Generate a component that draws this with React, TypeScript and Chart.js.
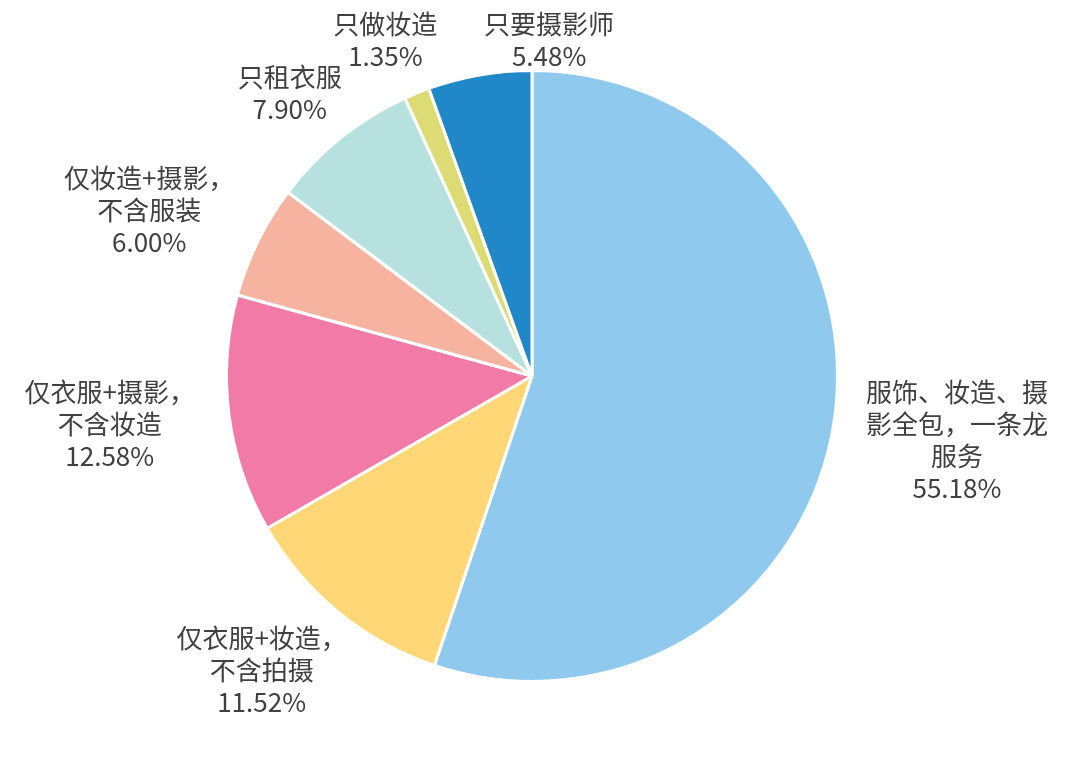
import { useEffect, useRef } from 'react';
import { Chart, ArcElement, PieController, Plugin } from 'chart.js';

Chart.register(ArcElement, PieController);

// slices, clockwise from 12 o'clock
const CATEGORIES = [
  ['服饰、妆造、摄', '影全包，一条龙', '服务'],
  ['仅衣服+妆造，', '不含拍摄'],
  ['仅衣服+摄影，', '不含妆造'],
  ['仅妆造+摄影，', '不含服装'],
  ['只租衣服'],
  ['只做妆造'],
  ['只要摄影师'],
];
const SHARES = [55.18, 11.52, 12.58, 6.0, 7.9, 1.35, 5.48];

const COLORS = ['#8fcaee', '#ffd777', '#f17aa6', '#f6b4a0', '#b7e1de', '#dddc74', '#2088c8'];

// label block centres, in units of the pie radius from the pie centre
const LABEL_LAYOUT = [
  [1.391, 0.211],
  [-0.885, 0.962],
  [-1.382, 0.156],
  [-1.253, -0.544],
  [-0.793, -0.926],
  [-0.48, -1.1],
  [0.056, -1.1],
];

const FONT = '"Noto Sans CJK SC", "Noto Sans", sans-serif';
const LINE_H = 32;

const labelPlugin: Plugin<'pie'> = {
  id: 'sliceLabels',
  afterDatasetsDraw(chart) {
    const { ctx } = chart;
    const arcs = chart.getDatasetMeta(0).data as any[];
    ctx.save();
    ctx.fillStyle = '#404040';
    ctx.font = `26px ${FONT}`;
    ctx.textAlign = 'center';
    ctx.textBaseline = 'middle';
    arcs.forEach((arc, i) => {
      const { x, y, outerRadius } = arc.getProps(['x', 'y', 'outerRadius'], true);
      const [fx, fy] = LABEL_LAYOUT[i];
      const lines = [...CATEGORIES[i], SHARES[i].toFixed(2) + '%'];
      const cx = x + fx * outerRadius;
      const cy = y + fy * outerRadius;
      const top = cy - ((lines.length - 1) * LINE_H) / 2;
      lines.forEach((t, k) => ctx.fillText(t, cx, top + k * LINE_H));
    });
    ctx.restore();
  },
};

function SharePie() {
  const canvasRef = useRef<HTMLCanvasElement>(null);

  useEffect(() => {
    if (!canvasRef.current) return;
    const chart = new Chart(canvasRef.current, {
      type: 'pie',
      data: {
        labels: CATEGORIES.map((c) => c.join('')),
        datasets: [
          {
            data: SHARES,
            backgroundColor: COLORS,
            borderColor: '#ffffff',
            borderWidth: 3,
          },
        ],
      },
      options: {
        animation: false,
        responsive: false,
        maintainAspectRatio: false,
        layout: { padding: { left: 132, right: 133, top: 69, bottom: 89 } },
        plugins: {
          legend: { display: false },
          tooltip: { enabled: false },
        },
      },
      plugins: [labelPlugin],
    });
    return () => chart.destroy();
  }, []);

  return <canvas ref={canvasRef} width={1065} height={772} style={{ display: 'block' }} />;
}

export default function App() {
  return (
    <div style={{ position: 'fixed', left: 0, top: 0, width: 1065, height: 772, background: '#ffffff' }}>
      <SharePie />
    </div>
  );
}
